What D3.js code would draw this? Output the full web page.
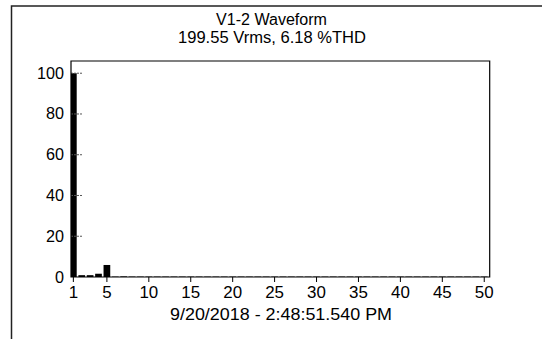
<!DOCTYPE html>
<html>
<head>
<meta charset="utf-8">
<script src="https://cdn.jsdelivr.net/npm/d3@7"></script>
<style>
 body{margin:0;background:#fff;}
 text{font-family:"Liberation Sans",Arial,sans-serif;font-size:16px;fill:#000;}
</style>
</head>
<body>
<div id="chart"></div>
<script>
// harmonic orders and magnitudes (% of fundamental)
var harmonics = d3.range(1, 51);
var magnitudes = [100, 0.9, 0.9, 1.6, 5.9, 0.2, 0.3, 0.2, 0.2, 0.2,
  0.2, 0.2, 0.2, 0.2, 0.2, 0.2, 0.2, 0.2, 0.2, 0.2,
  0.2, 0.2, 0.2, 0.2, 0.2, 0.2, 0.2, 0.2, 0.2, 0.2,
  0.2, 0.2, 0.2, 0.2, 0.2, 0.2, 0.2, 0.2, 0.2, 0.2,
  0.2, 0.2, 0.2, 0.2, 0.2, 0.2, 0.2, 0.2, 0.2, 0.2];
var xTicks = [1, 5, 10, 15, 20, 25, 30, 35, 40, 45, 50];
var yTicks = [0, 20, 40, 60, 80, 100];
var title = "V1-2 Waveform";
var subtitle = "199.55 Vrms, 6.18 %THD";
var footer = "9/20/2018 - 2:48:51.540 PM";

function drawChart(){
  var width = 542, height = 339;
  var pLeft = 71, pRight = 489.7, pTop = 61, pBottom = 277;

  var svg = d3.select('#chart').append('svg')
    .attr('width', width).attr('height', height)
    .style('display', 'block');

  // outer frame (top + left only)
  svg.append('path')
    .attr('d', 'M11.5,339 L11.5,6 L542,6')
    .attr('fill', 'none').attr('stroke', '#222').attr('stroke-width', 1.5);

  var x = d3.scaleLinear().domain([0.72, 50.65]).range([pLeft, pRight]);
  var y = d3.scaleLinear().domain([0, 106]).range([pBottom, pTop]);
  var barW = 6.7;

  // bars
  svg.append('g').selectAll('rect')
    .data(harmonics)
    .enter().append('rect')
      .attr('x', function(d) { return Math.max(pLeft, x(d) - barW / 2); })
      .attr('width', function(d) { return x(d) + barW / 2 - Math.max(pLeft, x(d) - barW / 2); })
      .attr('y', function(d, i) { return y(magnitudes[i]); })
      .attr('height', function(d, i) { return pBottom - y(magnitudes[i]); })
      .attr('fill', '#000');

  // y ticks inside
  svg.append('g').selectAll('line')
    .data(yTicks.filter(function(d){ return d > 0; }))
    .enter().append('line')
      .attr('x1', pLeft).attr('x2', pLeft + 11)
      .attr('y1', function(d) { return y(d); })
      .attr('y2', function(d) { return y(d); })
      .attr('stroke', '#555').attr('stroke-dasharray', '2,1');

  svg.append('g').selectAll('text')
    .data(yTicks)
    .enter().append('text')
      .attr('x', pLeft - 7)
      .attr('y', function(d) { return y(d) + 5.5; })
      .attr('text-anchor', 'end')
      .attr('textLength', function(d) { return String(d).length * 9; })
      .attr('lengthAdjust', 'spacingAndGlyphs')
      .text(function(d) { return d; });

  // x ticks
  svg.append('g').selectAll('line')
    .data(xTicks)
    .enter().append('line')
      .attr('x1', function(d) { return x(d); })
      .attr('x2', function(d) { return x(d); })
      .attr('y1', pBottom).attr('y2', pBottom + 5)
      .attr('stroke', '#000');

  svg.append('g').selectAll('text')
    .data(xTicks)
    .enter().append('text')
      .attr('x', function(d) { return x(d); })
      .attr('y', pBottom + 21)
      .attr('text-anchor', 'middle')
      .attr('textLength', function(d) { return String(d).length * 9.4; })
      .attr('lengthAdjust', 'spacingAndGlyphs')
      .text(function(d) { return d; });

  // plot frame
  svg.append('path')
    .attr('d', 'M' + pLeft + ',' + pBottom + ' L' + pLeft + ',' + pTop + ' L' + pRight + ',' + pTop + ' L' + pRight + ',' + pBottom + ' Z')
    .attr('fill', 'none').attr('stroke', '#000').attr('stroke-width', 1.2);

  // titles
  svg.append('text').attr('x', 271.5).attr('y', 25).attr('text-anchor', 'middle')
    .attr('textLength', 111).attr('lengthAdjust', 'spacingAndGlyphs').text(title);
  svg.append('text').attr('x', 272).attr('y', 43).attr('text-anchor', 'middle')
    .attr('textLength', 188).attr('lengthAdjust', 'spacingAndGlyphs').text(subtitle);
  svg.append('text').attr('x', 281).attr('y', 320).attr('text-anchor', 'middle')
    .attr('textLength', 222).attr('lengthAdjust', 'spacingAndGlyphs').text(footer);
}
drawChart();
</script>
</body>
</html>
